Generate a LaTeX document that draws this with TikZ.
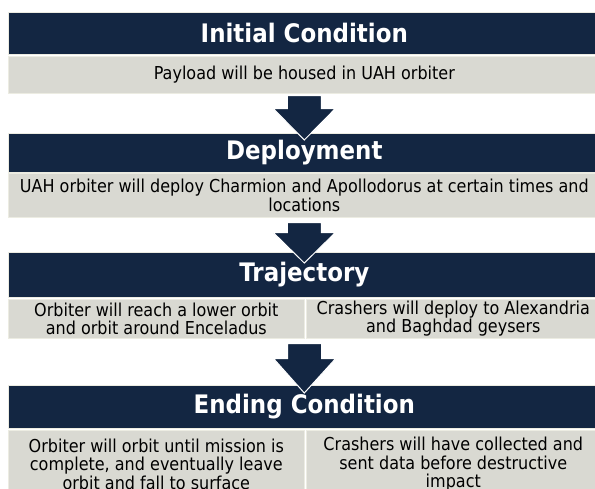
\documentclass[tikz,border=0pt]{standalone}
\usepackage{fontspec}
\setmainfont{DejaVu Sans}[FakeStretch=0.9]
\usetikzlibrary{calc}
\definecolor{navy}{RGB}{19,38,66}
\definecolor{cellgrey}{RGB}{217,217,210}
\definecolor{rimcol}{RGB}{236,236,226}
\newcommand\myblockarrow[3]{%
  \draw[blockarrow] let \p1=(#1), \p2=(#2) in
    (\x1-17pt,\y1) -- (\x1+17pt,\y1) -- (\x1+17pt,\y1-#3pt) -- (\x1+31pt,\y1-#3pt)
    -- (\x2,\y2) -- (\x1-31pt,\y1-#3pt) -- (\x1-17pt,\y1-#3pt) -- cycle;}
\begin{document}
\begin{tikzpicture}[x=1pt,y=-1pt,
  header/.style={fill=navy, draw=rimcol, line width=0.6pt, text=white,
    font=\fontsize{25.5}{28}\selectfont\bfseries, minimum width=592pt,
    inner sep=0pt, anchor=north west},
  cell/.style={fill=cellgrey, draw=rimcol, line width=0.6pt, text=black,
    font=\fontsize{17.8}{18.5}\selectfont, inner sep=0pt, anchor=north west, align=center},
  blockarrow/.style={fill=navy, draw=white, line width=1pt, line join=miter}]
\clip (0,0) rectangle (595,489);
\fill[white] (0,0) rectangle (595,489);
% block 1
\node[header, minimum height=42pt] (h1) at (8,12) {Initial Condition};
\node[cell, minimum width=592pt, minimum height=37pt] (g1) at (8,56) {Payload will be housed in UAH orbiter};
% block 2
\node[header, minimum height=39pt] (h2) at (8,133) {Deployment};
\node[cell, minimum width=592pt, minimum height=44pt] (g2) at (8,173)
  {UAH orbiter will deploy Charmion and Apollodorus at certain times and\\locations};
% block 3
\node[header, minimum height=45pt] (h3) at (8,252) {Trajectory};
\node[cell, minimum width=296pt, minimum height=39pt] (g3a) at (8,299)
  {Orbiter will reach a lower orbit\\and orbit around Enceladus};
\node[cell, minimum width=294pt, minimum height=39pt] (g3b) at (306,299)
  {Crashers will deploy to Alexandria\\and Baghdad geysers};
% block 4
\node[header, minimum height=43pt] (h4) at (8,385) {Ending Condition};
\node[cell, minimum width=296pt, minimum height=68pt] (g4a) at (8,430)
  {Orbiter will orbit until mission is\\complete, and eventually leave\\orbit and fall to surface};
\node[cell, minimum width=294pt, minimum height=68pt] (g4b) at (306,430)
  {Crashers will have collected and\\sent data before destructive\\impact};
% arrows
\coordinate (a1s) at ($(g1.south)+(0,2)$);
\coordinate (a1e) at ($(h2.north)+(0,7)$);
\coordinate (a2s) at ($(g2.south)+(0,5)$);
\coordinate (a2e) at ($(h3.north)+(0,11)$);
\coordinate (a3s) at ($(g3a.south east)+(0,5)$);
\coordinate (a3e) at ($(h4.north)+(0,8)$);
\myblockarrow{a1s}{a1e}{13}
\myblockarrow{a2s}{a2e}{10}
\myblockarrow{a3s}{a3e}{15}
\end{tikzpicture}
\end{document}
